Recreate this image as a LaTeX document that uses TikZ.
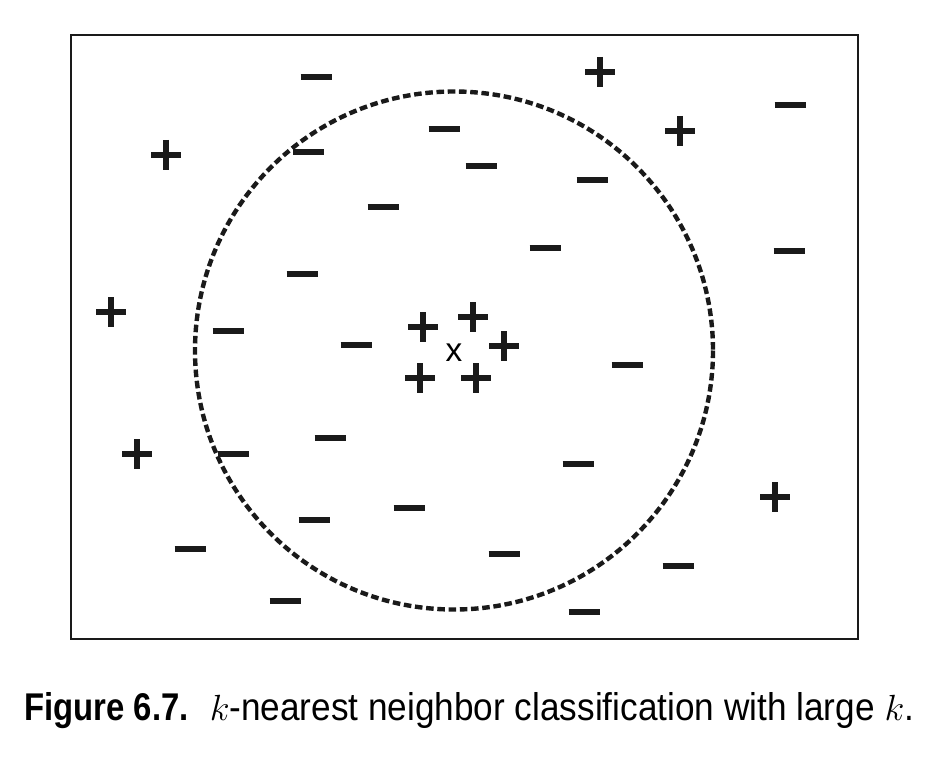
\documentclass[tikz,border=0pt]{standalone}
\usepackage{fontspec}
\usepackage{amsmath}
\usepackage{xcolor}
\usepackage{tikz}
\newfontfamily\capfont[FakeStretch=0.91,BoldFeatures={FakeStretch=0.85}]{Liberation Sans}
\newfontfamily\qryfont{Liberation Sans}
\definecolor{figline}{RGB}{26,26,26}
\tikzset{
  frm/.style  ={draw=figline, line width=1pt},
  ring/.style ={draw=figline, line width=2.5pt, dash pattern=on 4.3pt off 2.1pt},
  mk/.style   ={draw=figline, line width=3.2pt, line cap=butt},
  qry/.style  ={font=\qryfont\fontsize{19}{19}\selectfont, inner sep=0pt},
  captxt/.style ={font=\capfont\fontsize{22}{24}\selectfont, inner sep=0pt},
}
\begin{document}
\begin{tikzpicture}[x=0.02cm,y=-0.02cm]
  \useasboundingbox (0,0) rectangle (932,760);
  \draw[frm] (71,35) rectangle (858,639);
  \draw[ring] (454,350.5) circle[radius=259];
  % positive examples
  \draw[mk] (585,72) -- (615,72);   \draw[mk] (600,57) -- (600,87);
  \draw[mk] (665,131) -- (695,131); \draw[mk] (680,116) -- (680,146);
  \draw[mk] (151,155) -- (181,155); \draw[mk] (166,140) -- (166,170);
  \draw[mk] (96,312) -- (126,312);  \draw[mk] (111,297) -- (111,327);
  \draw[mk] (408,327) -- (438,327); \draw[mk] (423,312) -- (423,342);
  \draw[mk] (458,317) -- (488,317); \draw[mk] (473,302) -- (473,332);
  \draw[mk] (489,346) -- (519,346); \draw[mk] (504,331) -- (504,361);
  \draw[mk] (405,378) -- (435,378); \draw[mk] (420,363) -- (420,393);
  \draw[mk] (461,378) -- (491,378); \draw[mk] (476,363) -- (476,393);
  \draw[mk] (122,454) -- (152,454); \draw[mk] (137,439) -- (137,469);
  \draw[mk] (760,497) -- (790,497); \draw[mk] (775,482) -- (775,512);
  % negative examples
  \draw[mk] (300.5,77) -- (331.5,77);
  \draw[mk] (774.5,105) -- (805.5,105);
  \draw[mk] (428.5,129) -- (459.5,129);
  \draw[mk] (292.5,152) -- (323.5,152);
  \draw[mk] (465.5,166) -- (496.5,166);
  \draw[mk] (576.5,180) -- (607.5,180);
  \draw[mk] (367.5,207) -- (398.5,207);
  \draw[mk] (529.5,248) -- (560.5,248);
  \draw[mk] (773.5,251) -- (804.5,251);
  \draw[mk] (286.5,274) -- (317.5,274);
  \draw[mk] (212.5,331) -- (243.5,331);
  \draw[mk] (340.5,345) -- (371.5,345);
  \draw[mk] (611.5,365) -- (642.5,365);
  \draw[mk] (314.5,438) -- (345.5,438);
  \draw[mk] (217.5,454) -- (248.5,454);
  \draw[mk] (562.5,464) -- (593.5,464);
  \draw[mk] (393.5,508) -- (424.5,508);
  \draw[mk] (298.5,520) -- (329.5,520);
  \draw[mk] (174.5,549) -- (205.5,549);
  \draw[mk] (488.5,554) -- (519.5,554);
  \draw[mk] (662.5,566) -- (693.5,566);
  \draw[mk] (269.5,601) -- (300.5,601);
  \draw[mk] (568.5,612) -- (599.5,612);
  % query point
  \node[qry,anchor=base] (query) at (454,361) {x};
  % caption
  \node[captxt,anchor=base west] (caption) at (24,720)
    {{\bfseries Figure 6.7.}\hspace*{12pt}$k$-nearest neighbor classification with large $k$.};
\end{tikzpicture}
\end{document}
